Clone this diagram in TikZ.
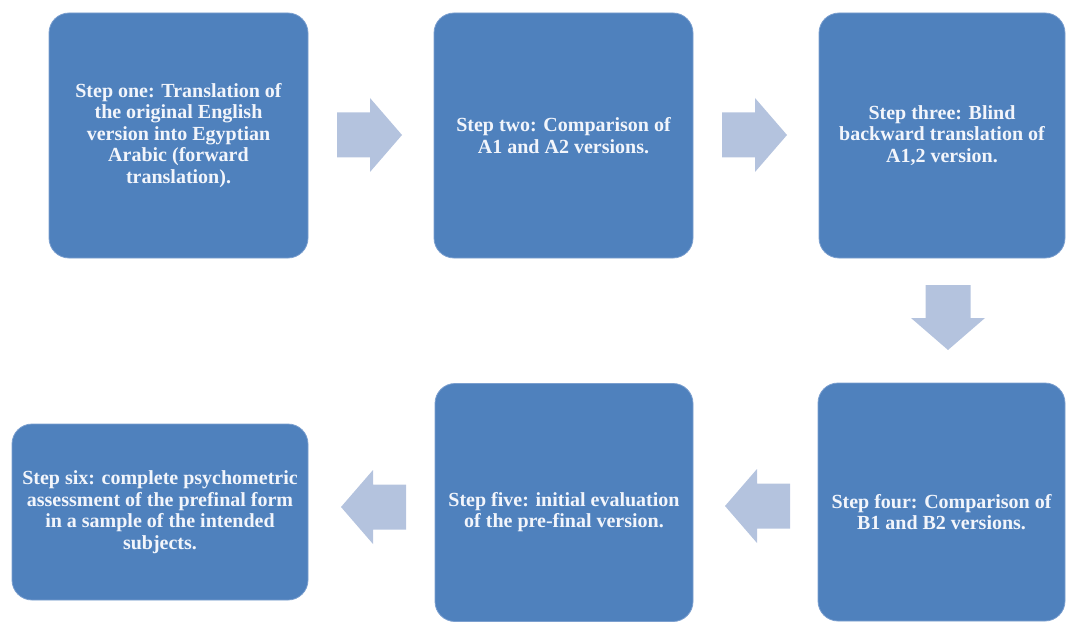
\documentclass[tikz,border=0pt]{standalone}
\usepackage{fontspec}
\setmainfont{Liberation Serif}
\usetikzlibrary{calc}
\definecolor{boxblue}{HTML}{4F81BD}
\definecolor{boxedge}{HTML}{7B9FCF}
\definecolor{arrowfill}{HTML}{B4C3DE}
\definecolor{txtcol}{HTML}{F2F5FB}
\tikzset{
  stepbox/.style={rectangle, rounded corners=20pt, fill=boxblue, draw=boxedge, line width=0.8pt,
    text=txtcol, align=center, font=\fontsize{20}{21.5}\selectfont\bfseries, inner sep=0pt},
  steptext/.style={text=txtcol, align=center, font=\fontsize{20}{21.5}\selectfont\bfseries, inner sep=0pt},
  blockarr/.pic={\fill[arrowfill] (-33,-22.5) -- (0,-22.5) -- (0,-37) -- (32,0) -- (0,37) -- (0,22.5) -- (-33,22.5) -- cycle;}
}
\begin{document}
\begin{tikzpicture}[x=1pt,y=-1pt]
\useasboundingbox (0,0) rectangle (1066,623);
% boxes
\node[stepbox, minimum width=259pt, minimum height=245pt] (s1) at (178.5,135.5)
  {Step one: Translation of\\the original English\\version into Egyptian\\Arabic (forward\\translation).};
\node[stepbox, minimum width=259pt, minimum height=245pt] (s2) at (563.5,135.5)
  {Step two: Comparison of\\A1 and A2 versions.};
\node[stepbox, minimum width=246pt, minimum height=245pt] (s3) at (942,135.5)
  {Step three: Blind\\backward translation of\\A1,2 version.};
\node[stepbox, minimum width=247pt, minimum height=238pt] (s4) at (941.5,502) {};
\node[steptext] (t4) at (941.5,512) {Step four: Comparison of\\B1 and B2 versions.};
\node[stepbox, minimum width=258pt, minimum height=238pt] (s5) at (564,502.5) {};
\node[steptext] (t5) at (564,512) {Step five: initial evaluation\\of the pre-final version.};
\node[stepbox, minimum width=296pt, minimum height=176pt] (s6) at (160,512)
  {Step six: complete psychometric\\assessment of the prefinal form\\in a sample of the intended\\subjects.};
% block arrows
\coordinate (a1) at (370,135);
\coordinate (a2) at (755,135);
\coordinate (a3) at (948,318);
\coordinate (a4) at (757,506);
\coordinate (a5) at (373,507);
\pic at (a1) {blockarr};
\pic at (a2) {blockarr};
\pic[rotate=-90] at (a3) {blockarr};
\pic[rotate=180] at (a4) {blockarr};
\pic[rotate=180] at (a5) {blockarr};
\end{tikzpicture}
\end{document}
